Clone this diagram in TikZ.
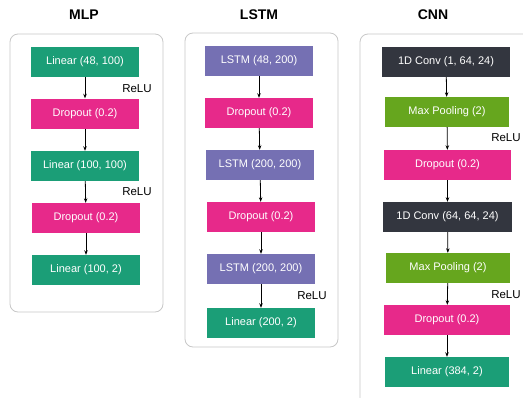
\documentclass[tikz,border=0pt]{standalone}
\usepackage{fontspec}
\setmainfont{Liberation Sans}
\usetikzlibrary{arrows.meta}
\definecolor{cgreen}{HTML}{1B9E77}
\definecolor{cpink}{HTML}{E7298A}
\definecolor{cpurple}{HTML}{7570B3}
\definecolor{clime}{HTML}{66A61E}
\definecolor{cdark}{HTML}{33363F}
\definecolor{cframe}{HTML}{C8C8C8}
\tikzset{
  layer/.style={draw=none, inner sep=0pt, minimum height=30pt, text=white,
    font=\fontsize{11}{13}\selectfont},
  lin/.style={layer, fill=cgreen},
  drop/.style={layer, fill=cpink},
  lstm/.style={layer, fill=cpurple},
  pool/.style={layer, fill=clime},
  conv/.style={layer, fill=cdark},
  frame/.style={draw=cframe, line width=0.8pt, rounded corners=8pt},
  ttl/.style={font=\fontsize{14}{16}\selectfont\bfseries, text=black},
  relu/.style={font=\fontsize{11.5}{13}\selectfont, text=black, inner sep=0pt},
  arr/.style={-{Stealth[length=4.5pt,width=3.5pt]}, line width=0.8pt, black}
}
\begin{document}
\begin{tikzpicture}[x=1pt,y=-1pt]
\useasboundingbox (0,0) rectangle (523,397);
\clip (0,0) rectangle (523,397);
\fill[white] (0,0) rectangle (523,397);
% MLP
\node[ttl] (tm) at (84,15) {MLP};
\draw[frame] (10,34) rectangle (163,312);
\node[lin, minimum width=108pt] (m1) at (85,62) {Linear (48, 100)};
\node[drop, minimum width=108pt] (m2) at (85,113.5) {Dropout (0.2)};
\node[lin, minimum width=108pt] (m3) at (85,166) {Linear (100, 100)};
\node[drop, minimum width=108pt] (m4) at (86,218) {Dropout (0.2)};
\node[lin, minimum width=108pt] (m5) at (86,270) {Linear (100, 2)};
\node[relu] (mr1) at (137,89) {ReLU};
\node[relu] (mr2) at (137,192) {ReLU};
\draw[arr] (m1) -- (m2);
\draw[arr] (m2) -- (m3);
\draw[arr] (m3) -- (m4);
\draw[arr] (m4) -- (m5);
% LSTM
\node[ttl] (tl) at (259,15) {LSTM};
\draw[frame] (185,33) rectangle (338,347);
\node[lstm, minimum width=108pt] (l1) at (259,61) {LSTM (48, 200)};
\node[drop, minimum width=108pt] (l2) at (259,113) {Dropout (0.2)};
\node[lstm, minimum width=108pt] (l3) at (260,165) {LSTM (200, 200)};
\node[drop, minimum width=108pt] (l4) at (261,217) {Dropout (0.2)};
\node[lstm, minimum width=108pt] (l5) at (261,269) {LSTM (200, 200)};
\node[lin, minimum width=108pt] (l6) at (261,323) {Linear (200, 2)};
\node[relu] (lr1) at (312,296) {ReLU};
\draw[arr] (l1) -- (l2);
\draw[arr] (l2) -- (l3);
\draw[arr] (l3) -- (l4);
\draw[arr] (l4) -- (l5);
\draw[arr] (l5) -- (l6);
% CNN
\node[ttl] (tc) at (433,15) {CNN};
\draw[frame] (360,34) rectangle (545,420);
\node[conv, minimum width=128pt] (c1) at (446,62) {1D Conv (1, 64, 24)};
\node[pool, minimum width=124pt] (c2) at (447,112) {Max Pooling (2)};
\node[drop, minimum width=127pt] (c3) at (447.5,165) {Dropout (0.2)};
\node[conv, minimum width=129pt] (c4) at (447.5,217) {1D Conv (64, 64, 24)};
\node[pool, minimum width=124pt] (c5) at (448,268) {Max Pooling (2)};
\node[drop, minimum width=126pt] (c6) at (447,320) {Dropout (0.2)};
\node[lin, minimum width=124pt] (c7) at (447,372) {Linear (384, 2)};
\node[relu] (cr1) at (506,138) {ReLU};
\node[relu] (cr2) at (506,295) {ReLU};
\draw[arr] (c1) -- (c2);
\draw[arr] (c2) -- (c3);
\draw[arr] (c3) -- (c4);
\draw[arr] (c4) -- (c5);
\draw[arr] (c5) -- (c6);
\draw[arr] (c6) -- (c7);
\end{tikzpicture}
\end{document}
